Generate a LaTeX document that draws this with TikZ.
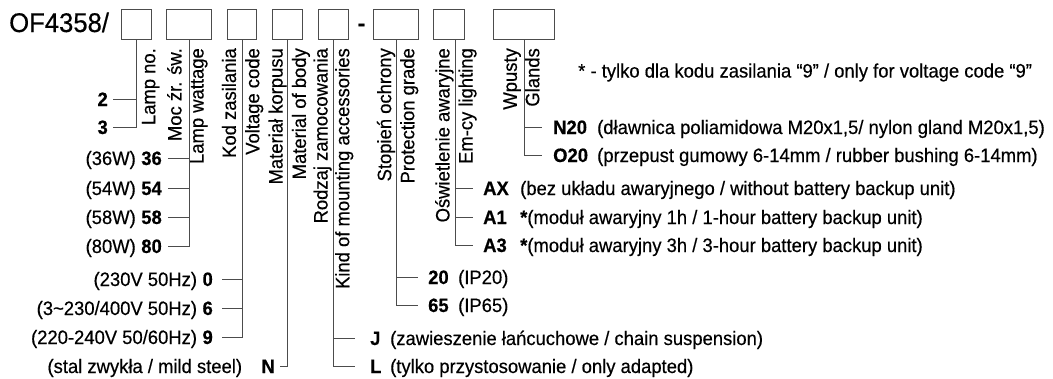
\documentclass[tikz,border=0pt]{standalone}
\usepackage{fontspec}
\setmainfont{Liberation Sans}[FakeStretch=0.95,FakeBold=0.4]
\definecolor{lc}{gray}{0.3}
\newcommand\myfs{\fontsize{19.4}{23}\selectfont}
\newcommand\bigfs{\fontsize{27}{32}\selectfont}
\begin{document}
\begin{tikzpicture}[x=1pt,y=-1pt,
  codebox/.style={draw=lc, line width=0.9pt, inner sep=0, minimum height=30pt, minimum width=#1, anchor=north west},
  lab/.style={rotate=90, anchor=north east, inner sep=0, font=\myfs},
  codeR/.style={font=\myfs\bfseries, inner sep=0, anchor=base west},
  codeL/.style={font=\myfs\bfseries, inner sep=0, anchor=base east},
  descR/.style={font=\myfs, inner sep=0, anchor=base west},
  descL/.style={font=\myfs, inner sep=0, anchor=base east},
  conn/.style={draw=lc, line width=0.9pt},
]
\useasboundingbox (0,0) rectangle (1053,378);

% title and boxes
\node[font=\bigfs, inner sep=0, anchor=base west] (title) at (9,32) {OF4358/};
\node[codebox=30pt] (b1) at (121,9) {};
\node[codebox=45pt] (b2) at (166,9) {};
\node[codebox=29pt] (b3) at (227,9) {};
\node[codebox=30pt] (b4) at (272,9) {};
\node[codebox=30pt] (b5) at (318,9) {};
\node[font=\fontsize{23}{27}\selectfont\bfseries, inner sep=0, anchor=base] (dash) at (361.5,31) {-};
\node[codebox=45pt] (b6) at (373,9) {};
\node[codebox=31pt] (b7) at (433,9) {};
\node[codebox=61pt] (b8) at (493,9) {};

% rotated labels
\node[lab] (l1) at (141.7,48) {Lamp no.};
\node[lab] (l2a) at (167,48) {Moc źr. św.};
\node[lab] (l2b) at (190,48) {Lamp wattage};
\node[lab] (l3a) at (221.7,48) {Kod zasilania};
\node[lab] (l3b) at (245,48) {Voltage code};
\node[lab] (l4a) at (268.3,48) {Materiał korpusu};
\node[lab] (l4b) at (291.7,48) {Material of body};
\node[lab] (l5a) at (313.3,48) {Rodzaj zamocowania};
\node[lab] (l5b) at (335,48) {Kind of mounting accessories};
\node[lab] (l6a) at (376.7,48) {Stopień ochrony};
\node[lab] (l6b) at (400,48) {Protection grade};
\node[lab] (l7a) at (435,48) {Oświetlenie awaryjne};
\node[lab] (l7b) at (458.3,48) {Em-cy lighting};
\node[lab] (l8a) at (503.3,48) {Wpusty};
\node[lab] (l8b) at (525,48) {Glands};

% note
\node[descR] (note) at (578,77.5) {* - tylko dla kodu zasilania “9” / only for voltage code “9”};

% left side codes
\node[codeL] (c2) at (108,106) {2};
\node[codeL] (c3) at (108,134) {3};
\node[codeL] (c36) at (162,165) {36};
\node[codeL] (c54) at (162,195) {54};
\node[codeL] (c58) at (162,224) {58};
\node[codeL] (c80) at (162,253) {80};
\node[codeL] (c0) at (213,286) {0};
\node[codeL] (c6) at (213,315) {6};
\node[codeL] (c9) at (213,344) {9};
\node[codeL] (cN) at (275,373) {N};

\node[descL] (d36) at ([xshift=-5.1pt]c36.base west) {(36W)};
\node[descL] (d54) at ([xshift=-5.1pt]c54.base west) {(54W)};
\node[descL] (d58) at ([xshift=-5.1pt]c58.base west) {(58W)};
\node[descL] (d80) at ([xshift=-5.1pt]c80.base west) {(80W)};
\node[descL] (d0) at ([xshift=-5.1pt]c0.base west) {(230V 50Hz)};
\node[descL] (d6) at ([xshift=-5.1pt]c6.base west) {(3\char"7E 230/400V 50Hz)};
\node[descL] (d9) at ([xshift=-5.1pt]c9.base west) {(220-240V 50/60Hz)};
\node[descL] (dN) at ([xshift=-19pt]cN.base west) {(stal zwykła / mild steel)};

% right side codes
\node[codeR] (cN20) at (553,134) {N20};
\node[codeR] (cO20) at (553,162) {O20};
\node[codeR] (cAX) at (483,195) {AX};
\node[codeR] (cA1) at (483,224) {A1};
\node[codeR] (cA3) at (483,252) {A3};
\node[codeR] (c20) at (428,284) {20};
\node[codeR] (c65) at (428,312) {65};
\node[codeR] (cJ) at (370,345) {J};
\node[codeR] (cL) at (370,373) {L};

\node[descR] (dN20) at (597,134) {(dławnica poliamidowa M20x1,5/ nylon gland M20x1,5)};
\node[descR] (dO20) at (597,162) {(przepust gumowy 6-14mm / rubber bushing 6-14mm)};
\node[descR] (dAX) at (520,195) {(bez układu awaryjnego / without battery backup unit)};
\node[descR] (dA1) at (520,224) {\textbf{*}(moduł awaryjny 1h / 1-hour battery backup unit)};
\node[descR] (dA3) at (520,252) {\textbf{*}(moduł awaryjny 3h / 3-hour battery backup unit)};
\node[descR] (d20) at (458,284) {(IP20)};
\node[descR] (d65) at (458,312) {(IP65)};
\node[descR] (dJ) at (390,345) {(zawieszenie łańcuchowe / chain suspension)};
\node[descR] (dL) at (390,373) {(tylko przystosowanie / only adapted)};

% connectors
\draw[conn] (b1.south) |- ([xshift=5pt]c2.east);
\draw[conn] (b1.south) |- ([xshift=5pt]c3.east);
\draw[conn] (b2.south) |- ([xshift=6pt]c36.east);
\draw[conn] (b2.south) |- ([xshift=6pt]c54.east);
\draw[conn] (b2.south) |- ([xshift=6pt]c58.east);
\draw[conn] (b2.south) |- ([xshift=6pt]c80.east);
\draw[conn] (b3.south) |- ([xshift=8.5pt]c0.east);
\draw[conn] (b3.south) |- ([xshift=8.5pt]c6.east);
\draw[conn] (b3.south) |- ([xshift=8.5pt]c9.east);
\draw[conn] (b4.south) |- ([xshift=5pt]cN.east);
\draw[conn] (b5.south) |- ([xshift=-15pt]cJ.west);
\draw[conn] (b5.south) |- ([xshift=-15pt]cL.west);
\draw[conn] (b6.south) |- ([xshift=-10pt]c20.west);
\draw[conn] (b6.south) |- ([xshift=-10pt]c65.west);
\draw[conn] ([xshift=6.5pt]b7.south) |- ([xshift=-10pt]cAX.west);
\draw[conn] ([xshift=6.5pt]b7.south) |- ([xshift=-10pt]cA1.west);
\draw[conn] ([xshift=6.5pt]b7.south) |- ([xshift=-10pt]cA3.west);
\draw[conn] (b8.south) |- ([xshift=-11pt]cN20.west);
\draw[conn] (b8.south) |- ([xshift=-11pt]cO20.west);
\end{tikzpicture}
\end{document}
